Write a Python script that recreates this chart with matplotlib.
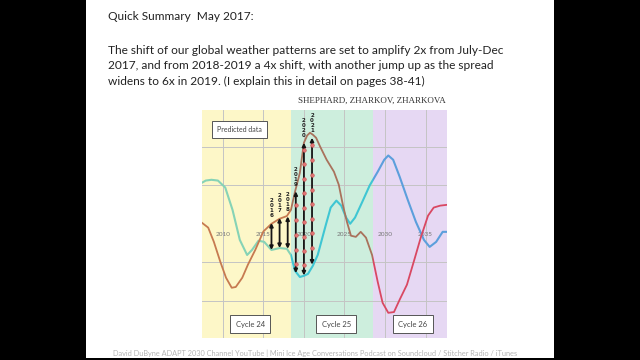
import matplotlib
matplotlib.use("Agg")
import matplotlib.pyplot as plt
from matplotlib.patches import Rectangle

# ----- curve data (year, relative amplitude) -----
BLUE_X = [2007.4, 2007.9, 2008.6, 2009.4, 2010.3, 2011.2, 2012.1, 2013.0, 2013.6, 2014.4,
          2015.1, 2016.0, 2017.0, 2017.9, 2018.4, 2018.9, 2019.5, 2020.0, 2020.5, 2021.1,
          2021.7, 2022.2, 2022.7, 2023.3, 2024.0, 2024.6, 2025.2, 2025.7, 2026.3, 2027.2,
          2028.1, 2029.1, 2029.9, 2030.4, 2031.0, 2031.8, 2032.8, 2033.8, 2034.8, 2035.5,
          2036.3, 2037.1, 2037.6]
BLUE_Y = [1.06, 1.12, 1.14, 1.12, 0.94, 0.36, -0.42, -0.81, -0.68, -0.44,
          -0.47, -0.68, -0.63, -0.65, -0.81, -1.22, -1.38, -1.35, -1.30, -1.09,
          -0.81, -0.42, -0.03, 0.42, 0.60, 0.47, 0.16, 0.00, 0.16, 0.57,
          0.99, 1.35, 1.66, 1.77, 1.66, 1.22, 0.62, 0.05, -0.42, -0.60,
          -0.47, -0.21, -0.21]

RED_X = [2007.4, 2008.2, 2008.9, 2009.7, 2010.4, 2011.1, 2011.6, 2012.4, 2013.1, 2014.0,
         2015.0, 2016.0, 2017.0, 2017.9, 2018.4, 2018.9, 2019.5, 2020.0, 2020.4, 2020.75,
         2021.1, 2021.5, 2022.0, 2022.8, 2023.7, 2024.3, 2024.8, 2025.3, 2025.8, 2026.4,
         2027.0, 2027.65, 2028.4, 2029.1, 2029.7, 2030.4, 2031.1, 2031.8, 2032.7, 2033.6,
         2034.4, 2035.3, 2036.0, 2036.8, 2037.6]
RED_Y = [0.03, -0.10, -0.47, -0.99, -1.40, -1.66, -1.64, -1.40, -1.06, -0.68,
         -0.20, 0.00, 0.13, 0.20, 0.36, 0.83, 1.32, 2.10, 2.29, 2.36,
         2.31, 2.23, 2.00, 1.66, 1.35, 1.01, 0.49, 0.05, -0.31, -0.34,
         -0.21, -0.36, -0.81, -1.51, -2.05, -2.31, -2.29, -1.97, -1.58, -0.94,
         -0.36, 0.21, 0.42, 0.47, 0.49]

# ----- spread arrows -----
ARROW_YEARS = [2016, 2017, 2018, 2019, 2020, 2021]
ARROW_TOP = [0.02, 0.15, 0.19, 0.84, 2.10, 2.23]
ARROW_BOTTOM = [-0.68, -0.63, -0.65, -1.28, -1.34, -1.06]
DOT_YEARS = [2019] * 5 + [2020] * 9 + [2021] * 8
DOT_VALUES = [0.49, 0.10, -0.29, -0.68, -1.04,
              1.92, 1.56, 1.17, 0.81, 0.42, 0.05, -0.34, -0.70, -1.06,
              2.03, 1.66, 1.27, 0.88, 0.52, 0.13, -0.23, -0.62]

# ----- cycle bands -----
BAND_EDGES = [2007.4, 2018.4, 2028.55, 2037.6]
BAND_COLORS = ["#fdf7c8", "#cdeedd", "#e6d8f3"]
BLUE_COLORS = ["#86d3b6", "#3fc6d3", "#5c9fdc"]
RED_COLORS = ["#c67a50", "#a9725c", "#d94862"]
CYCLE_LABELS = ["Cycle 24", "Cycle 25", "Cycle 26"]
CYCLE_X = [2013.4, 2024.0, 2033.4]
YEAR_TICKS = [2010, 2015, 2020, 2025, 2030, 2035]

fig = plt.figure(figsize=(6.4, 3.6), dpi=100, facecolor="black")
fig.patches.append(Rectangle((86 / 640, 2 / 360), 468 / 640, 358 / 360,
                             transform=fig.transFigure, facecolor="white",
                             edgecolor="none", zorder=-5))

txt = dict(family="Lato", color="#222222")
fig.text(108 / 640, 1 - 17 / 360, "Quick Summary  May 2017:", fontsize=8.6, va="center", **txt)
para = ["The shift of our global weather patterns are set to amplify 2x from July-Dec",
        "2017, and from 2018-2019 a 4x shift, with another jump up as the spread",
        "widens to 6x in 2019. (I explain this in detail on pages 38-41)"]
for i, line in enumerate(para):
    fig.text(108 / 640, 1 - (50 + i * 15.8) / 360, line, fontsize=8.6, va="center", **txt)
fig.text(446 / 640, 1 - 101 / 360, "SHEPHARD, ZHARKOV, ZHARKOVA", family="Liberation Serif",
         fontsize=6.5, ha="right", va="center", color="#333333")
fig.text(315 / 640, 1 - 353 / 360,
         "David DuByne ADAPT 2030 Channel YouTube | Mini Ice Age Conversations Podcast on "
         "Soundcloud / Stitcher Radio / iTunes",
         family="Lato", fontsize=5.3, ha="center", va="center", color="#b4b4b4")

ax = fig.add_axes([201.7 / 640, 22.5 / 360, 245 / 640, 227.5 / 360])
ax.set_xlim(BAND_EDGES[0], BAND_EDGES[-1])
ax.set_ylim(-2.95, 2.95)
for s in ax.spines.values():
    s.set_visible(False)
ax.set_xticks([])
ax.set_yticks([])

for i, c in enumerate(BAND_COLORS):
    ax.axvspan(BAND_EDGES[i], BAND_EDGES[i + 1], color=c, lw=0, zorder=0)
for yr in YEAR_TICKS:
    ax.axvline(yr, color="#c4c4c4", lw=0.7, zorder=1)
    ax.text(yr, -0.29, str(yr), fontsize=4.6, ha="center", va="center",
            color="#777777", family="Lato", zorder=2)
for v in [-2, -1, 1, 2]:
    ax.axhline(v, color="#c4c4c4", lw=0.7, zorder=1)

# curves, coloured by the band they pass through
for i in range(3):
    clip = Rectangle((BAND_EDGES[i], -5), BAND_EDGES[i + 1] - BAND_EDGES[i], 10,
                     transform=ax.transData)
    lb, = ax.plot(BLUE_X, BLUE_Y, color=BLUE_COLORS[i], lw=1.5, zorder=3)
    lr, = ax.plot(RED_X, RED_Y, color=RED_COLORS[i], lw=1.3, zorder=3)
    lb.set_clip_path(clip)
    lr.set_clip_path(clip)

for yr, top, bot in zip(ARROW_YEARS, ARROW_TOP, ARROW_BOTTOM):
    ax.annotate("", xy=(yr, top), xytext=(yr, bot),
                arrowprops=dict(arrowstyle="<|-|>", color="#151515", lw=1.3,
                                mutation_scale=5, shrinkA=0, shrinkB=0), zorder=4)
    ax.text(yr, top + 0.12, "\n".join(str(yr)), fontsize=4, fontweight="bold",
            ha="center", va="bottom", linespacing=1.0, color="#222222", zorder=5)
ax.plot(DOT_YEARS, DOT_VALUES, "o", ms=2.6, color="#e27474", mec="#c85050",
        mew=0.4, zorder=5)

box = dict(boxstyle="square,pad=0.7", fc="white", ec="#555555", lw=0.7)
ax.text(2012.03, 2.44, "Predicted data", fontsize=5, ha="center", va="center",
        family="Lato", color="#444444", bbox=box, zorder=6)
for lab, x in zip(CYCLE_LABELS, CYCLE_X):
    ax.text(x, -2.6, lab, fontsize=5.5, ha="center", va="center", family="Lato",
            color="#444444", bbox=box, zorder=6)

fig.savefig("out.png", dpi=100, facecolor="black")
